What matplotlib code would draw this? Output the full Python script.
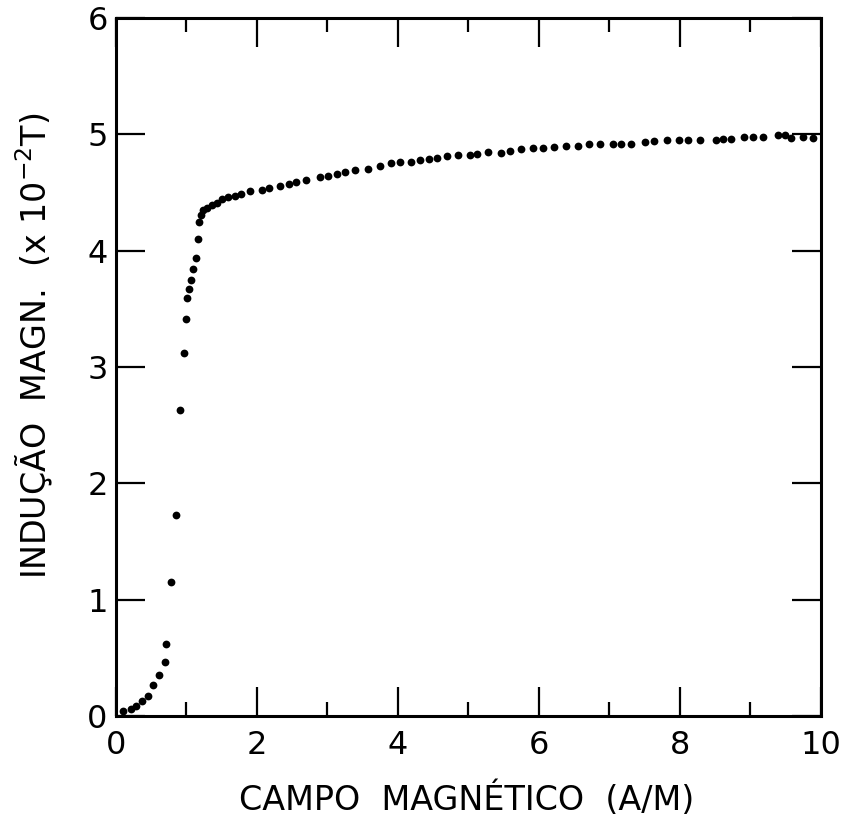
import matplotlib
matplotlib.use('Agg')
import matplotlib.pyplot as plt
from matplotlib.ticker import MultipleLocator, FixedLocator

# campo magnetico H (A/M) e inducao B (x 10^-2 T)
campo = [0.10, 0.21, 0.29, 0.37, 0.45, 0.53, 0.61, 0.70, 0.71, 0.78,
         0.85, 0.91, 0.97, 1.00, 1.01, 1.03, 1.06, 1.09, 1.13, 1.16,
         1.18, 1.20, 1.24, 1.29, 1.36, 1.43, 1.50, 1.59, 1.69, 1.77,
         1.90, 2.07, 2.17, 2.33, 2.46, 2.56, 2.70, 2.89, 3.01, 3.13,
         3.25, 3.39, 3.58, 3.74, 3.90, 4.03, 4.18, 4.31, 4.44, 4.56,
         4.69, 4.85, 5.02, 5.12, 5.27, 5.46, 5.59, 5.74, 5.92, 6.06,
         6.21, 6.39, 6.55, 6.71, 6.87, 7.05, 7.17, 7.31, 7.50, 7.63,
         7.81, 7.98, 8.12, 8.28, 8.51, 8.61, 8.73, 8.91, 9.04, 9.18,
         9.39, 9.49, 9.58, 9.75, 9.89]
inducao = [0.04, 0.06, 0.09, 0.13, 0.17, 0.27, 0.35, 0.46, 0.62, 1.15,
           1.73, 2.63, 3.12, 3.41, 3.59, 3.67, 3.75, 3.84, 3.94, 4.10,
           4.25, 4.31, 4.35, 4.37, 4.39, 4.41, 4.44, 4.46, 4.47, 4.49,
           4.51, 4.52, 4.54, 4.56, 4.57, 4.59, 4.61, 4.63, 4.64, 4.66,
           4.68, 4.69, 4.70, 4.73, 4.75, 4.76, 4.76, 4.78, 4.79, 4.80,
           4.81, 4.82, 4.82, 4.83, 4.85, 4.84, 4.86, 4.87, 4.88, 4.88,
           4.89, 4.90, 4.90, 4.92, 4.92, 4.92, 4.92, 4.92, 4.93, 4.94,
           4.95, 4.95, 4.95, 4.95, 4.95, 4.96, 4.96, 4.98, 4.98, 4.98,
           4.99, 4.99, 4.97, 4.98, 4.97]

x_major = [0, 2, 4, 6, 8, 10]
y_major = [0, 1, 2, 3, 4, 5, 6]

plt.rcParams['font.family'] = ['DejaVu Sans']

fig = plt.figure(figsize=(8.46, 8.26), dpi=100)
fig.set_facecolor('w')
ax = fig.add_axes([0.1371, 0.1332, 0.8333, 0.845])

ax.plot(campo, inducao, 'o', color='black', markersize=5.6, markeredgewidth=0)

ax.set_xlim(0, 10)
ax.set_ylim(0, 6)
ax.xaxis.set_major_locator(FixedLocator(x_major))
ax.xaxis.set_minor_locator(MultipleLocator(1))
ax.yaxis.set_major_locator(FixedLocator(y_major))
ax.set_xticklabels([str(v) for v in x_major])
ax.set_yticklabels([str(v) for v in y_major])

for s in ax.spines.values():
    s.set_linewidth(2.2)
ax.tick_params(which='both', direction='in', top=True, right=True, colors='black')
ax.tick_params(which='major', length=21, width=1.6, labelsize=23)
ax.tick_params(which='minor', length=10, width=1.6)
ax.tick_params(axis='x', which='major', pad=10)
ax.tick_params(axis='y', which='major', pad=6)

ax.set_xlabel('CAMPO  MAGNÉTICO  (A/M)', fontsize=24)
ax.set_ylabel('INDUÇÃO  MAGN.  (x 10$^{-2}$T)', fontsize=24)
ax.xaxis.set_label_coords(0.497, -0.12)
ax.yaxis.set_label_coords(-0.115, 0.53)
ax.xaxis.label.set_verticalalignment('center')
ax.yaxis.label.set_verticalalignment('center')

plt.savefig('out.png', dpi=100, facecolor='w')
